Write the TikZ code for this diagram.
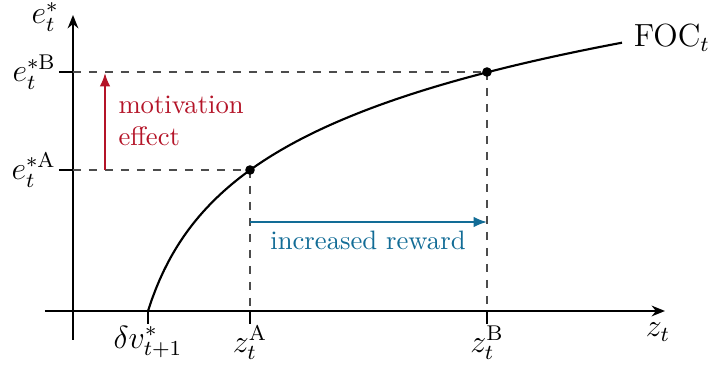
\documentclass[tikz,border=0pt]{standalone}
\usetikzlibrary{arrows.meta}
\definecolor{myred}{RGB}{180,20,40}
\definecolor{myblue}{RGB}{18,108,150}
\begin{document}
\begin{tikzpicture}[x=0.375pt,y=-0.375pt,
  axis/.style={line width=0.8pt,-{Stealth[length=5pt,width=4pt]}},
  tickline/.style={line width=0.8pt},
  guide/.style={dashed,black!70,line width=0.4pt},
  dot/.style={circle,fill=black,inner sep=0pt,minimum size=3.6pt},
  lbl/.style={font=\large},
  effarrow/.style={line width=0.8pt,-{Latex[length=5pt,width=4pt]}}]
\useasboundingbox (0,0) rectangle (713,367);
% axes
\coordinate (yb) at (73,340);
\coordinate (yt) at (73,15);
\coordinate (xl) at (45,311);
\coordinate (xr) at (665,311);
\draw[axis] (yb) -- (yt);
\draw[axis] (xl) -- (xr);
\node[lbl,anchor=east,inner sep=1pt] (ylab) at (62,17) {$e_t^*$};
\node[lbl] (xlab) at (658,332) {$z_t$};
% points
\coordinate (A) at (250,170);
\coordinate (B) at (487,72);
\coordinate (yA) at (73,170);
\coordinate (yB) at (73,72);
\coordinate (xA) at (250,311);
\coordinate (xB) at (487,311);
\coordinate (x0) at (148,311);
% dashed guides
\draw[guide] (yA) -- (A);
\draw[guide] (yB) -- (B);
\draw[guide] (A) -- (xA);
\draw[guide] (B) -- (xB);
% ticks
\draw[tickline] (59,170) -- (yA);
\draw[tickline] (59,72) -- (yB);
\draw[tickline] (x0) -- ++(0,13) coordinate (t0);
\draw[tickline] (xA) -- ++(0,13) coordinate (tA);
\draw[tickline] (xB) -- ++(0,13) coordinate (tB);
\node[lbl,anchor=north,inner sep=0.5pt] (l0) at (t0) {$\delta v_{t+1}^*$};
\node[lbl,anchor=north,inner sep=0.5pt] (lA) at (tA) {$z_t^{\mathrm{A}}$};
\node[lbl,anchor=north,inner sep=0.5pt] (lB) at (tB) {$z_t^{\mathrm{B}}$};
\node[lbl,anchor=east,inner sep=1pt] (eA) at (59,170) {$e_t^{*\mathrm{A}}$};
\node[lbl,anchor=east,inner sep=1pt] (eB) at (59,72) {$e_t^{*\mathrm{B}}$};
% curve
\draw[line width=0.8pt] plot[domain=148:622,samples=120] (\x,{311-95.1*ln(1+(\x-148)/30)}) coordinate (cend);
\node[lbl,anchor=west,inner sep=2pt] (foc) at (628,38) {FOC$_t$};
\node[dot] at (A) {};
\node[dot] at (B) {};
% motivation effect
\coordinate (mA) at (105,170);
\coordinate (mB) at (105,73);
\draw[effarrow,myred] (mA) -- (mB);
\node[anchor=west,align=left,text=myred,inner sep=0pt] (mot) at (118,121) {motivation\\effect};
% increased reward
\coordinate (rA) at (250,222);
\coordinate (rB) at (487,222);
\draw[effarrow,myblue] (rA) -- (rB);
\node[text=myblue] (rew) at (368,240) {increased reward};
\end{tikzpicture}
\end{document}
